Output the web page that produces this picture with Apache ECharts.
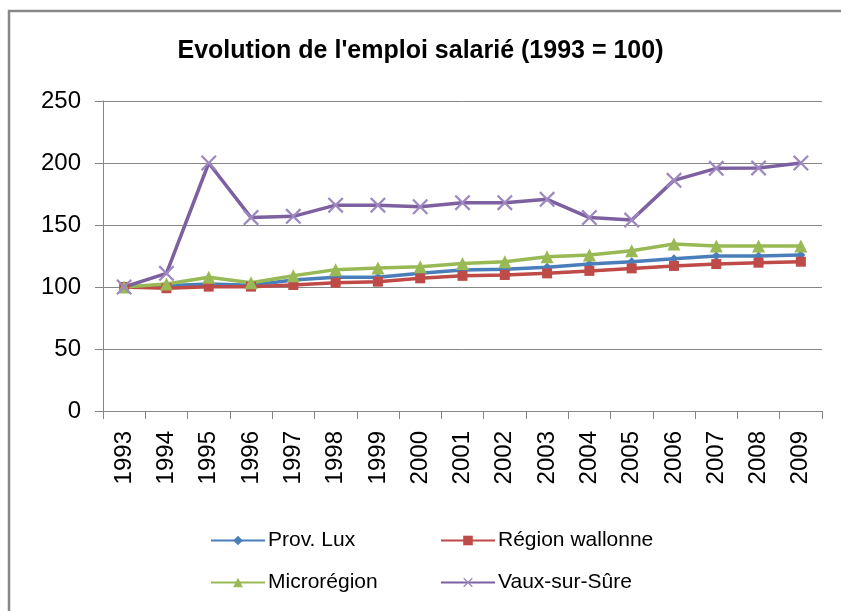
<!DOCTYPE html>
<html>
<head>
<meta charset="utf-8">
<script src="https://cdn.jsdelivr.net/npm/echarts@6/dist/echarts.min.js"></script>
<style>
  html, body { margin: 0; padding: 0; background: #fff; }
  #chart { width: 841px; height: 611px; }
</style>
</head>
<body>
<div id="chart"></div>
<script>
var years = ['1993', '1994', '1995', '1996', '1997', '1998', '1999', '2000', '2001',
  '2002', '2003', '2004', '2005', '2006', '2007', '2008', '2009'];
var provLux = [100, 101, 102.4, 101.5, 105.6, 107.8, 107.8, 111, 113.7, 114.3, 115.9, 118.5, 120.4, 122.8, 125, 125, 125.8];
var regionWallonne = [100, 99, 100.3, 100.3, 101.6, 103.5, 104.3, 107, 109, 109.7, 111, 113, 115, 117, 118.5, 119.6, 120.4];
var microregion = [100, 102.4, 107.8, 103.5, 109, 114, 115.3, 116.4, 119, 120.4, 124.4, 125.8, 129.3, 134.7, 133, 133, 133];
var vauxSurSure = [100, 111, 200, 156, 157, 166, 166, 164.7, 168, 168, 170.7, 156, 154, 186, 195.7, 196, 200];
var yTicks = [0, 50, 100, 150, 200, 250];

var font = 'Liberation Sans';
var crossIcon = 'path://M0,1L1,0L5,4L9,0L10,1L6,5L10,9L9,10L5,6L1,10L0,9L4,5Z';

var chartDom = document.getElementById('chart');
var myChart = echarts.init(chartDom);

function legendAt(name, left, top) {
  return {
    data: [name],
    left: left,
    top: top,
    itemWidth: 54,
    itemHeight: 12,
    itemGap: 4,
    textStyle: { fontFamily: font, fontSize: 21, color: '#000', padding: [0, 0, 0, -2] },
    selectedMode: false
  };
}

function lineSeries(name, data, color, symbol, size, markColor) {
  return {
    name: name,
    type: 'line',
    data: data,
    symbol: symbol,
    symbolSize: size,
    showSymbol: true,
    animation: false,
    lineStyle: { color: color, width: 3.5 },
    itemStyle: { color: markColor || color }
  };
}

var option = {
  animation: false,
  graphic: [{
    type: 'rect',
    shape: { x: 9, y: 11, width: 900, height: 700 },
    style: { fill: 'none', stroke: '#888', lineWidth: 2.5 }
  }],
  title: {
    text: "Evolution de l'emploi salarié (1993 = 100)",
    left: 'center',
    top: 34,
    textStyle: { fontFamily: font, fontSize: 25, fontWeight: 'bold', color: '#000' }
  },
  legend: [
    legendAt('Prov. Lux', 205, 525),
    legendAt('Région wallonne', 435, 525),
    legendAt('Microrégion', 205, 567),
    legendAt('Vaux-sur-Sûre', 435, 567)
  ],
  grid: { left: 103, right: 19, top: 101, bottom: 200 },
  xAxis: {
    type: 'category',
    data: years,
    boundaryGap: true,
    axisLine: { lineStyle: { color: '#868686', width: 1 } },
    axisTick: { show: true, length: 8, interval: 0, lineStyle: { color: '#868686' } },
    axisLabel: {
      interval: 0,
      rotate: 90,
      fontFamily: font,
      fontSize: 24,
      color: '#000',
      margin: 20
    }
  },
  yAxis: {
    type: 'value',
    min: 0,
    max: 250,
    interval: 50,
    axisLine: { show: true, lineStyle: { color: '#868686' } },
    axisTick: { show: true, length: 8, lineStyle: { color: '#868686' } },
    axisLabel: {
      fontFamily: font,
      fontSize: 24,
      color: '#000',
      margin: 22,
      formatter: function (v) { return yTicks.indexOf(v) >= 0 ? String(v) : ''; }
    },
    splitLine: { lineStyle: { color: '#868686', width: 1 } }
  },
  series: [
    lineSeries('Prov. Lux', provLux, '#4a7ebb', 'diamond', 9),
    lineSeries('Région wallonne', regionWallonne, '#be4b48', 'rect', 10),
    lineSeries('Microrégion', microregion, '#98b954', 'triangle', 13),
    lineSeries('Vaux-sur-Sûre', vauxSurSure, '#7d60a0', crossIcon, 16, '#9d88c0')
  ]
};

option && myChart.setOption(option);
</script>
</body>
</html>
